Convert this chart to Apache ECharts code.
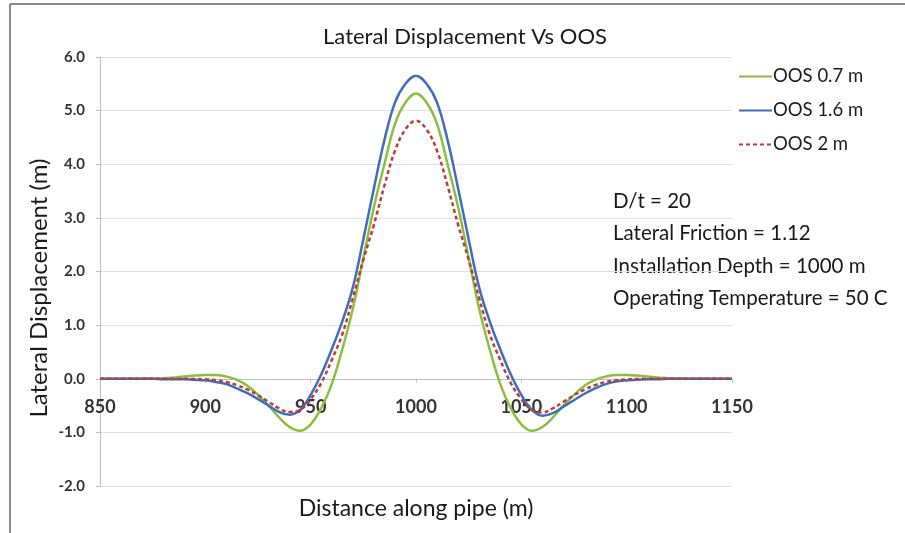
<!DOCTYPE html>
<html>
<head>
<meta charset="utf-8">
<script src="https://cdn.jsdelivr.net/npm/echarts@6/dist/echarts.min.js"></script>
<style>
html,body{margin:0;padding:0;background:#fff;}
#c{width:905px;height:533px;}
</style>
</head>
<body>
<div id="c"></div>
<script>
var xValues = [850,855,860,865,870,875,880,885,890,895,900,905,910,915,920,925,930,935,940,945,950,955,960,965,970,975,980,985,990,995,1000,1005,1010,1015,1020,1025,1030,1035,1040,1045,1050,1055,1060,1065,1070,1075,1080,1085,1090,1095,1100,1105,1110,1115,1120,1125,1130,1135,1140,1145,1150];
var oos07 = [0,0,0,0,0,0.005,0.01,0.025,0.04,0.06,0.07,0.07,0.04,-0.02,-0.13,-0.3,-0.5,-0.72,-0.9,-0.97,-0.85,-0.55,-0.1,0.55,1.3,2.25,3.2,4.0,4.75,5.15,5.32,5.15,4.75,4.0,3.2,2.25,1.3,0.55,-0.1,-0.55,-0.85,-0.97,-0.9,-0.72,-0.5,-0.3,-0.13,-0.02,0.04,0.07,0.07,0.06,0.04,0.025,0.01,0.005,0,0,0,0,0];
var oos16 = [0,0,0,0,0,0,-0.01,-0.01,-0.01,-0.02,-0.03,-0.06,-0.1,-0.18,-0.27,-0.38,-0.5,-0.62,-0.67,-0.58,-0.3,0.08,0.55,1.07,1.7,2.6,3.55,4.45,5.15,5.5,5.65,5.5,5.15,4.45,3.55,2.6,1.7,1.07,0.55,0.08,-0.3,-0.58,-0.69,-0.64,-0.52,-0.4,-0.28,-0.18,-0.1,-0.05,-0.03,-0.02,-0.01,-0.01,0,0,0,0,0,0,0];
var oos2 = [0,0,0,0,0,0,0,0,0,-0.005,-0.01,-0.03,-0.06,-0.12,-0.2,-0.31,-0.43,-0.55,-0.62,-0.58,-0.38,-0.08,0.35,0.83,1.5,2.22,2.87,3.6,4.25,4.65,4.81,4.65,4.25,3.6,2.87,2.22,1.5,0.83,0.35,-0.08,-0.38,-0.58,-0.63,-0.55,-0.43,-0.31,-0.2,-0.12,-0.06,-0.03,-0.01,-0.005,0,0,0,0,0,0,0,0,0];
var seriesNames = ['OOS 0.7 m','OOS 1.6 m','OOS 2 m'];
var notes = ['D/t = 20','Lateral Friction = 1.12','Installation Depth = 1000 m','Operating Temperature = 50 C'];
var titleText = 'Lateral Displacement Vs OOS';
var xName = 'Distance along pipe (m)';
var yName = 'Lateral Displacement (m)';

function pairs(ys){ return xValues.map(function(x,i){ return [x, ys[i]]; }); }
var FONT = 'Lato';
var TXT = '#1a1a1a';
var noteY = [201, 233, 266, 298];
var chart = echarts.init(document.getElementById('c'));
var graphics = [
  {type:'line', shape:{x1:10,y1:4,x2:905,y2:4}, style:{stroke:'#8c8c8c', lineWidth:2}},
  {type:'line', shape:{x1:10,y1:4,x2:10,y2:533}, style:{stroke:'#8c8c8c', lineWidth:2}},
  {type:'text', x:465, y:37, style:{text:titleText, fontFamily:FONT, fontSize:22, fill:TXT, align:'center', verticalAlign:'middle'}},
  {type:'text', x:416, y:509, style:{text:xName, fontFamily:FONT, fontSize:23, fill:TXT, align:'center', verticalAlign:'middle'}},
  {type:'text', x:39, y:288, rotation:Math.PI/2, style:{text:yName, fontFamily:FONT, fontSize:24, fill:TXT, align:'center', verticalAlign:'middle'}}
];
notes.forEach(function(t,i){
  graphics.push({type:'text', x:613, y:noteY[i], style:{text:t, fontFamily:FONT, fontSize:20.5, fill:TXT, align:'left', verticalAlign:'middle'}});
});
chart.setOption({
  backgroundColor:'#fff',
  animation:false,
  grid:{left:100, right:173, top:57, bottom:47, containLabel:false, outerBoundsMode:'none'},
  legend:{orient:'vertical', left:733, top:62, itemWidth:33, itemHeight:14, itemGap:15,
    itemStyle:{opacity:0},
    textStyle:{fontFamily:FONT, fontSize:18.5, color:TXT, padding:[0,0,0,-4]},
    data:seriesNames},
  xAxis:{type:'value', min:850, max:1150, interval:50,
    axisLine:{onZero:true, lineStyle:{color:'#bfbfbf', width:1}},
    axisTick:{show:true, length:4, lineStyle:{color:'#bfbfbf'}},
    axisLabel:{fontFamily:FONT, fontSize:18, fontWeight:'bold', color:'#333', margin:19,
      formatter:function(v){return String(v);}},
    splitLine:{show:false}},
  yAxis:{type:'value', min:-2, max:6, interval:1,
    axisLine:{show:true, lineStyle:{color:'#bfbfbf'}},
    axisTick:{show:true, length:4, lineStyle:{color:'#bfbfbf'}},
    axisLabel:{fontFamily:FONT, fontSize:15, fontWeight:'bold', color:'#333', margin:15,
      formatter:function(v){return v.toFixed(1);}},
    splitLine:{lineStyle:{color:'#e0e0e0', width:1}}},
  graphic:graphics,
  series:[
    {name:seriesNames[0], type:'line', data:pairs(oos07), smooth:0.4, symbol:'none',
      itemStyle:{color:'#8cbf3f'}, lineStyle:{color:'#8cbf3f', width:2.5}, z:2},
    {name:seriesNames[1], type:'line', data:pairs(oos16), smooth:0.4, symbol:'none',
      itemStyle:{color:'#3f6fba'}, lineStyle:{color:'#3f6fba', width:2.5}, z:3},
    {name:seriesNames[2], type:'line', data:pairs(oos2), smooth:0.4, symbol:'none',
      itemStyle:{color:'#c0393b'}, lineStyle:{color:'#c0393b', width:2.5, type:[4,3]}, z:4}
  ]
});
// Place x-axis labels just under the zero line (as in the reference)
var zeroY = chart.convertToPixel({yAxisIndex:0}, 0);
var bottomPx = chart.convertToPixel({yAxisIndex:0}, -2);
if (Math.abs(bottomPx - zeroY) > 5) {
  chart.setOption({xAxis:{axisLabel:{margin:19 - (bottomPx - zeroY)}}});
}
</script>
</body>
</html>
